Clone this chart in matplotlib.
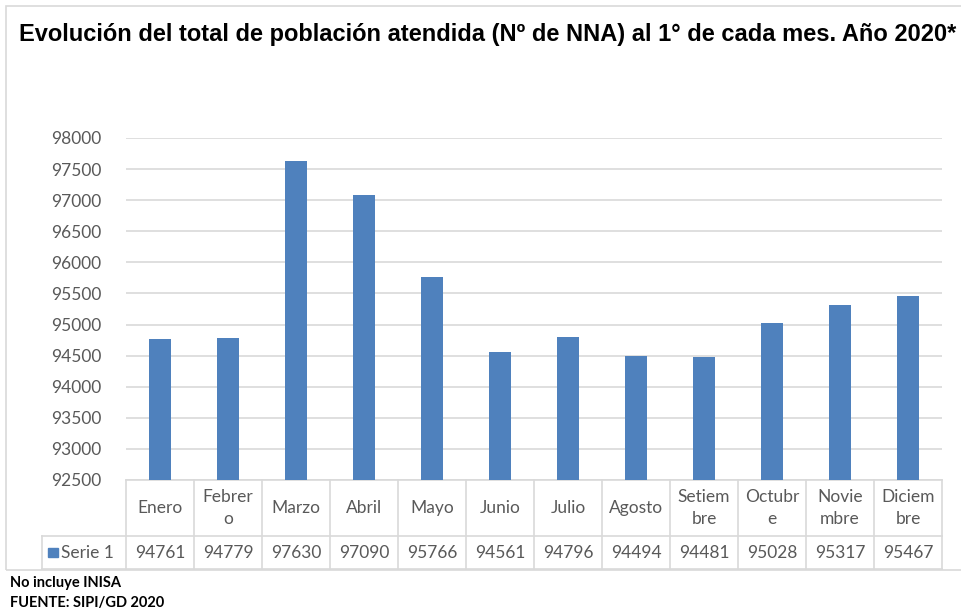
import matplotlib.pyplot as plt
from matplotlib.patches import Rectangle
from matplotlib.transforms import blended_transform_factory

title = "Evolución del total de población atendida (Nº de NNA) al 1° de cada mes. Año 2020*"
month_labels = ["Enero", "Febrer\no", "Marzo", "Abril", "Mayo", "Junio", "Julio",
                "Agosto", "Setiem\nbre", "Octubr\ne", "Novie\nmbre", "Diciem\nbre"]
series_name = "Serie 1"
values = [94761, 94779, 97630, 97090, 95766, 94561, 94796, 94494, 94481, 95028, 95317, 95467]
y_ticks = [92500, 93000, 93500, 94000, 94500, 95000, 95500, 96000, 96500, 97000, 97500, 98000]
notes = ["No incluye INISA", "FUENTE: SIPI/GD 2020"]

BAR_COLOR = "#4f81bd"
GRID_COLOR = "#d9d9d9"
TEXT_COLOR = "#595959"
W, H = 961, 615

plt.rcParams["font.family"] = ["Lato", "DejaVu Sans"]

fig = plt.figure(figsize=(W / 100, H / 100), dpi=100)

# outer chart frame
fig.patches.append(Rectangle((6 / W, 1 - 570 / H), 1.0, (570 - 6) / H,
                             transform=fig.transFigure, fill=False,
                             edgecolor=GRID_COLOR, linewidth=1.2))

fig.text(19 / W, 1 - 35 / H, title, ha="left", va="center", fontsize=17,
         fontweight="bold", family=["Liberation Sans", "DejaVu Sans"],
         color="black")

left, right, top, bottom = 126, 942, 138, 480
ax = fig.add_axes([left / W, 1 - bottom / H, (right - left) / W, (bottom - top) / H])

x = list(range(len(values)))
ax.bar(x, values, width=0.33, color=BAR_COLOR, zorder=3)
ax.set_xlim(-0.5, len(values) - 0.5)
ax.set_ylim(y_ticks[0], y_ticks[-1])
ax.set_yticks(y_ticks)
ax.set_yticklabels([str(t) for t in y_ticks])
ax.tick_params(axis="y", length=0, pad=18, labelsize=12.5, labelcolor=TEXT_COLOR)
ax.set_xticks([])
ax.grid(axis="y", color=GRID_COLOR, linewidth=1.2, zorder=0)
for s in ax.spines.values():
    s.set_visible(False)

# data table under the plot
ax_h = bottom - top
hdr_bot = -(536 - bottom) / ax_h
row_bot = -(569 - bottom) / ax_h
trans = blended_transform_factory(ax.transData, ax.transAxes)
leg_left = -0.5 - (left - 42) / ((right - left) / len(values))

line_kw = dict(color=GRID_COLOR, linewidth=1.2, clip_on=False, transform=trans)
ax.plot([-0.5, len(values) - 0.5], [0, 0], **line_kw)
ax.plot([leg_left, len(values) - 0.5], [hdr_bot, hdr_bot], **line_kw)
ax.plot([leg_left, len(values) - 0.5], [row_bot, row_bot], **line_kw)
ax.plot([leg_left, leg_left], [hdr_bot, row_bot], **line_kw)
for i in range(len(values) + 1):
    ax.plot([i - 0.5, i - 0.5], [0, row_bot], **line_kw)

for i, (lab, v) in enumerate(zip(month_labels, values)):
    ax.text(i, hdr_bot / 2, lab, transform=trans, ha="center", va="center",
            fontsize=12.5, color=TEXT_COLOR, linespacing=1.45)
    ax.text(i, (hdr_bot + row_bot) / 2, str(v), transform=trans, ha="center",
            va="center", fontsize=12.5, color=TEXT_COLOR)

# legend key in the table
ax.add_patch(Rectangle((leg_left + 0.09, (hdr_bot + row_bot) / 2 - 0.014), 0.14, 0.028,
                       transform=trans, color=BAR_COLOR, clip_on=False))
ax.text(leg_left + 0.28, (hdr_bot + row_bot) / 2, series_name, transform=trans,
        ha="left", va="center", fontsize=12.5, color=TEXT_COLOR)

for k, note in enumerate(notes):
    fig.text(10 / W, 1 - (583 + 20 * k) / H, note, ha="left", va="center",
             fontsize=10.5, fontweight="bold", color="black")

fig.savefig("out.png", dpi=100)
